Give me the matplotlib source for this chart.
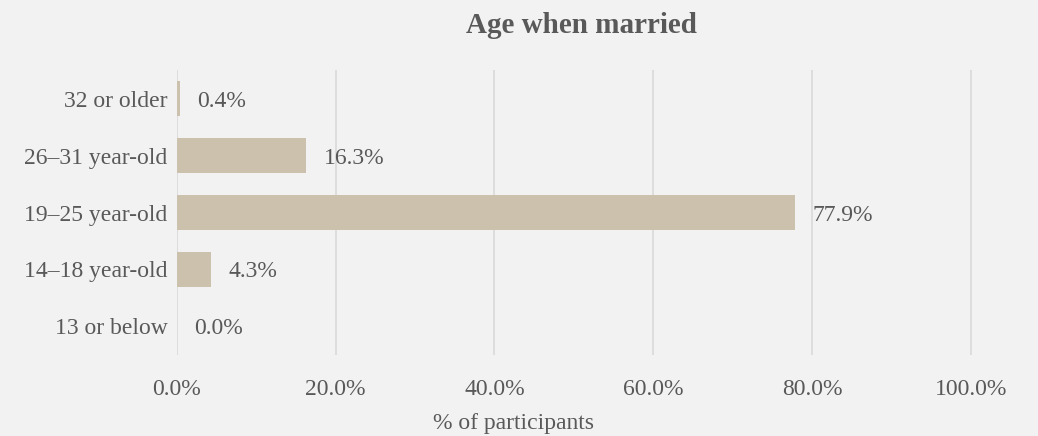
import matplotlib
matplotlib.use('Agg')
import matplotlib.pyplot as plt
from matplotlib.ticker import FuncFormatter

categories = ['13 or below', '14–18 year-old', '19–25 year-old', '26–31 year-old', '32 or older']
values = [0.0, 4.3, 77.9, 16.3, 0.4]

plt.rcParams['font.family'] = ['Liberation Serif', 'DejaVu Serif']
text_color = '#595959'
bg = '#F2F2F2'

fig = plt.figure(figsize=(10.38, 4.36), dpi=100, facecolor=bg)
ax = fig.add_axes([0.1705, 0.186, 0.780, 0.653], facecolor=bg)

ax.barh(range(len(categories)), values, height=0.62, color='#CCC1AC', zorder=3)
for i, v in enumerate(values):
    ax.annotate(f'{v:.1f}%', (v, i), xytext=(12.5, -1.8), textcoords='offset points',
                ha='left', va='center', fontsize=17, color=text_color)

ax.set_xlim(0, 102)
ax.set_ylim(-0.5, len(categories) - 0.5)
ax.set_xticks([0, 20, 40, 60, 80, 100])
ax.xaxis.set_major_formatter(FuncFormatter(lambda x, _: f'{x:.1f}%'))
ax.set_yticks(range(len(categories)))
ax.set_yticklabels(categories)
ax.grid(axis='x', color='#D9D9D9', linewidth=1.2, zorder=0)
for s in ax.spines.values():
    s.set_visible(False)
ax.tick_params(axis='both', length=0, labelsize=17, labelcolor=text_color)
ax.tick_params(axis='x', pad=17)
ax.tick_params(axis='y', pad=7)
ax.set_xlabel('% of participants', fontsize=17, color=text_color)
ax.xaxis.set_label_coords(0.416, -0.203)
ax.set_title('Age when married', fontsize=21, fontweight='bold', color=text_color, pad=27)

fig.savefig('out.png', dpi=100, facecolor=bg)
